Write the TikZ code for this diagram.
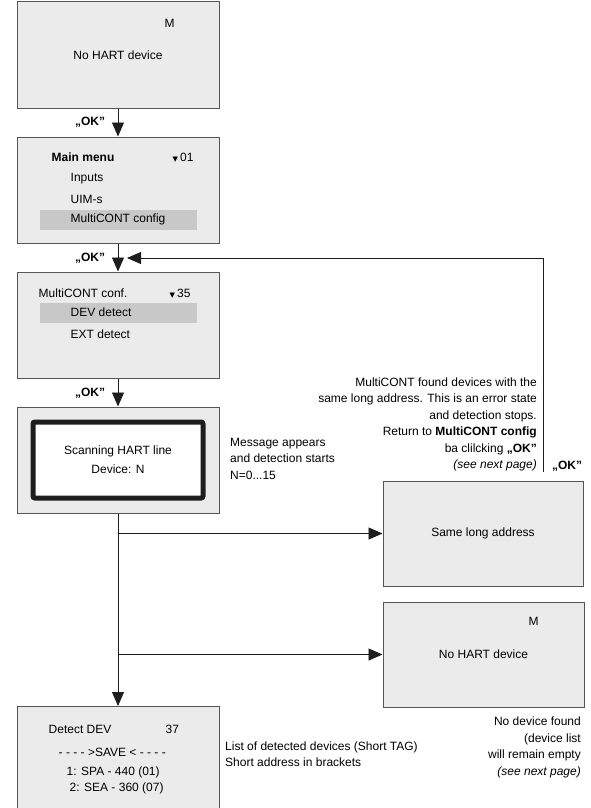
\documentclass[tikz,border=0pt]{standalone}
\usepackage{fontspec}
\setmainfont{Liberation Sans}
\newfontfamily\symfont{DejaVu Sans}
\usetikzlibrary{arrows.meta, positioning, calc}
\definecolor{scrGray}{HTML}{EBEBEB}
\definecolor{scrFrame}{HTML}{555555}
\definecolor{selGray}{HTML}{C8C8C8}
\definecolor{lineDark}{HTML}{1E1E1E}
\newcommand{\pickmark}{{\symfont\fontsize{7}{7}\selectfont ▼}\hspace{2pt}}
\tikzset{
  arrowK/.style={-{Triangle[length=14pt, width=12pt]}, color=lineDark, line width=0.9pt},
  screen/.style={rectangle, draw=scrFrame, fill=scrGray, line width=1pt,
                 minimum width=202pt, minimum height=106pt, inner sep=0pt,
                 font=\fontsize{12}{16}\selectfont},
  selBar/.style={rectangle, fill=selGray, minimum width=157pt, minimum height=20pt, inner sep=0pt},
  txt/.style={inner sep=0pt, font=\fontsize{12}{16}\selectfont},
  okLbl/.style={inner sep=0pt, font=\bfseries\fontsize{12}{16}\selectfont},
  noteL/.style={align=left, inner sep=0pt, anchor=north west, font=\fontsize{12}{16.5}\selectfont},
  noteR/.style={align=right, inner sep=0pt, anchor=north east, font=\fontsize{12}{16.5}\selectfont},
}
\begin{document}
\begin{tikzpicture}[x=1pt, y=-1pt, node distance=28pt]
    \useasboundingbox (0,0) rectangle (590,808);
    % left column of screens
    \node[screen] (scr1) at (118,55) {No HART device};
    \node[screen, below=of scr1] (scr2) {};
    \node[screen, below=of scr2] (scr3) {};
    \node[screen, below=of scr3] (scr4) {};
    \node[screen, anchor=north] (scr5) at (118,706) {};
    \node[txt] (scr1m) at ($(scr1.north west)+(153,22)$) {M};
    % main menu
    \node[selBar] (mmBar) at ($(scr2.north west)+(101.5,83)$) {};
    \node[txt, anchor=west, font=\bfseries\fontsize{12}{16}\selectfont] (mmTitle) at ($(scr2.north west)+(35,21)$) {Main menu};
    \node[txt, anchor=west] (mmIdx) at ($(scr2.north west)+(156,21)$) {\pickmark01};
    \node[txt, anchor=west] (mmInputs) at ($(scr2.north west)+(54,42)$) {Inputs};
    \node[txt, anchor=west] (mmUim) at ($(scr2.north west)+(54,63)$) {UIM-s};
    \node[txt, anchor=west] (mmConf) at ($(scr2.north west)+(54,83)$) {MultiCONT config};
    % MultiCONT conf.
    \node[selBar] (mcBar) at ($(scr3.north west)+(101.5,41)$) {};
    \node[txt, anchor=west] (mcTitle) at ($(scr3.north west)+(22,22)$) {MultiCONT conf.};
    \node[txt, anchor=west] (mcIdx) at ($(scr3.north west)+(153,22)$) {\pickmark35};
    \node[txt, anchor=west] (mcDev) at ($(scr3.north west)+(54,41)$) {DEV detect};
    \node[txt, anchor=west] (mcExt) at ($(scr3.north west)+(54,63)$) {EXT detect};
    % scanning
    \node[rectangle, draw=lineDark, line width=5pt, fill=white, rounded corners=2pt,
          minimum width=170pt, minimum height=76pt, align=center,
          font=\fontsize{12}{19}\selectfont] (scan) at (scr4.center) {Scanning HART line\\Device: N};
    % detect DEV
    \node[txt, anchor=west] (ddTitle) at ($(scr5.north west)+(32,23)$) {Detect DEV};
    \node[txt, anchor=west] (ddIdx) at ($(scr5.north west)+(149,23)$) {37};
    \node[txt, anchor=west] (ddSave) at ($(scr5.north west)+(42,46)$) {- - - - >SAVE < - - - -};
    \node[txt, anchor=west] (ddOne) at ($(scr5.north west)+(50,66)$) {1: SPA - 440 (01)};
    \node[txt, anchor=west] (ddTwo) at ($(scr5.north west)+(53,82)$) {2: SEA - 360 (07)};
    % right column
    \node[screen, minimum width=200pt, minimum height=105pt] (sameAddr) at (483,533.5) {Same long address};
    \node[screen, minimum width=201pt, minimum height=105pt] (noHart) at (483.5,654.5) {No HART device};
    \node[txt] (noHartm) at ($(noHart.north west)+(151,20)$) {M};
    % notes
    \node[noteL] (msgNote) at (230,438) {Message appears\\and detection starts\\N=0...15};
    \node[noteR] (errNote) at (537,377.5) {MultiCONT found devices with the\\
      same long address. This is an error state\\and detection stops.\\
      Return to \textbf{MultiCONT config}\\ba clilcking \textbf{„OK”}\\\textit{(see next page)}};
    \node[noteL] (listNote) at (225,741.5) {List of detected devices (Short TAG)\\Short address in brackets};
    \node[noteR] (emptyNote) at (581,717) {No device found\\(device list\\will remain empty\\\textit{(see next page)}};
    % connectors
    \draw[arrowK] (scr1) -- (scr2);
    \draw[arrowK] (scr2) -- (scr3);
    \draw[arrowK] (scr3) -- (scr4);
    \draw[arrowK] (scr4) -- (scr5);
    \draw[arrowK] (scr4.south |- sameAddr.west) -- (sameAddr.west);
    \draw[arrowK] (scr4.south |- noHart.west) -- (noHart.west);
    \coordinate (fbStart) at (543,472);
    \coordinate (fbEnd) at (127,258);
    \draw[arrowK] (fbStart) |- (fbEnd);
    \node[okLbl] (ok1) at ($(scr1.south)!0.5!(scr2.north)+(-28,0)$) {„OK”};
    \node[okLbl] (ok2) at ($(scr2.south)!0.5!(scr3.north)+(-28,1)$) {„OK”};
    \node[okLbl] (ok3) at ($(scr3.south)!0.5!(scr4.north)+(-28,1)$) {„OK”};
    \node[okLbl] (ok4) at (567,466) {„OK”};
\end{tikzpicture}
\end{document}
